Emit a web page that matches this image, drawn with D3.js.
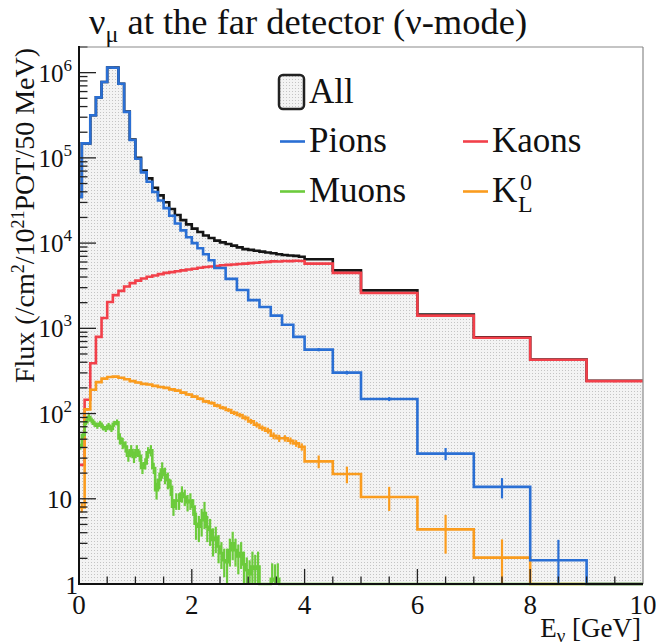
<!DOCTYPE html>
<html>
<head>
<meta charset="utf-8">
<script src="https://cdn.jsdelivr.net/npm/d3@7"></script>
<style>
  html, body { margin: 0; padding: 0; background: #fff; }
  svg { display: block; }
</style>
</head>
<body>
<svg id="chart" width="656" height="643"></svg>
<script>
// ---------------------------------------------------------------
// nu_mu flux at the far detector (neutrino mode), by parent particle.
// Flux in /cm^2/1e21 POT/50 MeV, bins in GeV.
// ---------------------------------------------------------------

// All contributions (total)
const allEdges = [0, 0.05, 0.2, 0.3, 0.4, 0.5, 0.6, 0.7, 0.8, 0.9, 1.0,
  1.1, 1.2, 1.3, 1.4, 1.5, 1.6, 1.7, 1.8, 1.9, 2.0,
  2.1, 2.2, 2.3, 2.4, 2.5, 2.6, 2.7, 2.8, 2.9, 3.0,
  3.1, 3.2, 3.3, 3.4, 3.5, 3.6, 3.7, 3.8, 3.9, 4.0,
  4.5, 5, 6, 7, 8, 9, 10];
const allFlux = [34800, 148000, 316000, 513000, 777000, 1150000, 1150000, 742000, 349000, 164000,
  100000, 70800, 57500, 44700, 36300, 30200, 25100, 21400, 18600, 16600,
  14800, 13500, 12300, 11500, 10700, 10200, 9770, 9330, 8910, 8510,
  8320, 8130, 7940, 7760, 7590, 7410, 7240, 7160, 7080, 6920,
  6460, 4790, 2790, 1450, 785, 431, 243];

// Pions
const pionEdges = [0, 0.05, 0.2, 0.3, 0.4, 0.5, 0.6, 0.7, 0.8, 0.9, 1.0,
  1.1, 1.2, 1.3, 1.4, 1.5, 1.6, 1.7, 1.8, 1.9, 2.0,
  2.1, 2.2, 2.3, 2.4, 2.6, 2.8, 3.0, 3.2, 3.4, 3.6, 3.8, 4.0,
  4.5, 5, 6, 7, 8, 9, 10];
const pionFlux = [34700, 148000, 316000, 513000, 776000, 1150000, 1140000, 741000, 347000, 162000,
  97700, 67600, 52500, 39800, 31600, 25700, 20900, 17000, 14100, 11700,
  10000, 8700, 7400, 6300, 5100, 3800, 2820, 2140, 1780, 1410, 1100, 794,
  562, 302, 148, 33.9, 13.8, 1.9, 0];
const pionErr = [0, 0, 0, 0, 0, 0, 0, 0, 0, 0,
  0, 0, 0, 0, 0, 0, 0, 0, 0, 0,
  0, 0, 0, 0, 0, 0, 0, 0, 0, 0, 0, 0,
  25, 15, 8, 5.5, 3.7, 1.4, 0];

// Kaons
const kaonEdges = [0, 0.1, 0.2, 0.3, 0.4, 0.5, 0.6, 0.7, 0.8, 0.9, 1.0,
  1.1, 1.2, 1.3, 1.4, 1.5, 1.6, 1.7, 1.8, 1.9, 2.0,
  2.1, 2.2, 2.3, 2.4, 2.5, 2.6, 2.7, 2.8, 2.9, 3.0,
  3.1, 3.2, 3.3, 3.4, 3.5, 3.6, 3.7, 3.8, 3.9, 4.0,
  4.5, 5, 6, 7, 8, 9, 10];
const kaonFlux = [25, 145, 389, 794, 1320, 2040, 2450, 2750, 3090, 3390,
  3630, 3850, 4030, 4170, 4320, 4470, 4570, 4680, 4790, 4900,
  5010, 5130, 5250, 5310, 5370, 5500, 5560, 5620, 5690, 5750,
  5820, 5890, 5960, 6030, 6100, 6080, 6170, 6140, 6200, 6170,
  5750, 4470, 2600, 1410, 776, 427, 240];
const kaonErr = [0, 0, 0, 0, 0, 0, 0, 0, 0, 0,
  0, 0, 0, 0, 0, 0, 0, 0, 0, 0,
  0, 0, 0, 0, 0, 0, 0, 0, 0, 0,
  0, 0, 0, 0, 0, 0, 0, 0, 0, 0,
  60, 50, 30, 20, 14, 10, 7];

// Muons (50 MeV bins up to 3.6 GeV, empty above)
const muonEdges = d3.range(0, 73).map(i => +(i * 0.05).toFixed(2)).concat([10]);
const muonFlux = [41, 56, 79, 91, 83, 76, 72, 76, 69, 66, 72, 66, 76, 79,
  51, 45, 41, 32, 37, 31, 37, 32, 23, 26, 35, 37, 23,
  12.6, 16.6, 22, 19, 16.6, 13.8, 8.1, 9.5, 9.5, 11.5, 10.5, 9.1, 9.5, 8.1,
  5.1, 4.7, 5.6, 6.8, 4.7, 4.3, 3.3, 3.5, 2.75, 2.3, 1.9, 1.8, 2.5, 3.0, 2.5, 2.1, 2.3, 1.7, 1.45,
  1.3, 1.6, 1.5, 1.6, 0, 0, 0, 0, 1.15, 1.1, 1.15, 0,
  0];
const muonErr = [3.3, 4.5, 6.3, 7.3, 6.6, 6.1, 5.8, 6.1, 5.5, 5.3, 5.8, 5.3, 6.1, 6.3,
  7.7, 6.8, 6.2, 4.8, 5.6, 4.7, 5.6, 4.8, 3.5, 3.9, 5.3, 5.6, 3.5,
  2.8, 3.7, 4.8, 4.2, 3.7, 3.0, 1.8, 2.1, 2.1, 2.5, 2.3, 2.0, 2.1, 1.8,
  1.8, 1.6, 2.0, 2.4, 1.6, 1.5, 1.2, 1.2, 1.0, 0.8, 0.7, 0.8, 0.9, 1.1, 0.9, 0.8, 0.8, 0.7, 0.6,
  0.6, 0.8, 0.7, 0.8, 0, 0, 0, 0, 0.6, 0.6, 0.6, 0,
  0];

// K0_L
const klongEdges = kaonEdges;
const klongFlux = [7.9, 112, 190, 234, 257, 269, 271, 263, 253, 240,
  231, 223, 219, 211, 205, 200, 192, 186, 176, 167,
  158, 149, 139, 133, 124, 117, 110, 102, 96, 89,
  81, 74, 67.6, 63.1, 55.0, 51.3, 51.3, 47.9, 44.7, 40.7,
  27.5, 19.5, 10.5, 4.37, 2.04, 0, 0];
const klongErr = [1.0, 4, 5, 5, 5, 5, 5, 5, 5, 5,
  5, 5, 5, 5, 5, 6, 6, 6, 6, 6,
  6, 6, 6, 6, 6, 6, 6, 6, 6, 6,
  5.5, 5.5, 5, 5, 5, 5, 4.5, 4.5, 4, 4,
  4.7, 4.3, 3.3, 2.1, 1.3, 0, 0];

// Axis labels
const xTickLabels = ["0", "2", "4", "6", "8", "10"];
const xTickValues = [0, 2, 4, 6, 8, 10];
const yDecades = [1, 10, 100, 1e3, 1e4, 1e5, 1e6];
const yDecadeExponents = ["", "", "2", "3", "4", "5", "6"];

// ---------------------------------------------------------------
const FONT = "'Liberation Serif', Tinos, 'Times New Roman', Times, 'DejaVu Serif', serif";
const svg = d3.select("#chart").attr("font-family", FONT).style("font-family", FONT);
const frame = { left: 79, right: 643, top: 47, bottom: 584 };
const x = d3.scaleLinear().domain([0, 10]).range([frame.left, frame.right]);
const y = d3.scaleLog().domain([1, 2e6]).range([frame.bottom, frame.top]);
const yv = v => (v > 1 ? y(v) : y(1));

const colors = { all: "#151515", pion: "#2a6fd4", kaon: "#f2404a", muon: "#6ccb3c", klong: "#fa9c1e" };

const defs = svg.append("defs");
const pat = defs.append("pattern").attr("id", "dots")
  .attr("width", 3).attr("height", 3).attr("patternUnits", "userSpaceOnUse");
pat.append("rect").attr("width", 3).attr("height", 3).attr("fill", "#f3f3f3");
pat.append("rect").attr("x", 1).attr("y", 1).attr("width", 1).attr("height", 1).attr("fill", "#c4c4c4");

defs.append("clipPath").attr("id", "plotClip")
  .append("rect").attr("x", frame.left).attr("y", frame.top)
  .attr("width", frame.right - frame.left).attr("height", frame.bottom - frame.top + 3);

svg.append("rect").attr("width", 656).attr("height", 643).attr("fill", "#fff");

// histogram outline points
function stepPoints(edges, vals) {
  const pts = [];
  vals.forEach((v, i) => { pts.push([edges[i], v]); pts.push([edges[i + 1], v]); });
  return pts;
}
const stepLine = d3.line().x(d => x(d[0])).y(d => yv(d[1]));
const stepArea = d3.area().x(d => x(d[0])).y0(y(1)).y1(d => yv(d[1]));

const plot = svg.append("g").attr("clip-path", "url(#plotClip)");

// filled total
plot.append("path").datum(stepPoints(allEdges, allFlux))
  .attr("d", stepArea).attr("fill", "url(#dots)");

// axes: ticks and lines
const axes = svg.append("g");
y.ticks().filter(v => v <= 2e6).forEach(v => {
  const major = Math.abs(Math.log10(v) - Math.round(Math.log10(v))) < 1e-9;
  if (v === 1) return;
  axes.append("line").attr("x1", frame.left).attr("x2", frame.left + (major ? 17 : 8.5))
    .attr("y1", y(v)).attr("y2", y(v))
    .attr("stroke", "#222").attr("stroke-width", 1.3);
});
x.ticks(20).forEach(v => {
  if (v === 0 || v === 10) return;
  const major = Math.abs(v / 2 - Math.round(v / 2)) < 1e-9;
  axes.append("line").attr("x1", x(v)).attr("x2", x(v))
    .attr("y1", frame.bottom).attr("y2", frame.bottom - (major ? 15 : 7.5))
    .attr("stroke", "#222").attr("stroke-width", 1.3);
});
// frame
axes.append("line").attr("x1", frame.left).attr("x2", frame.right).attr("y1", frame.top).attr("y2", frame.top)
  .attr("stroke", "#8a8a8a").attr("stroke-width", 1.2);
axes.append("line").attr("x1", frame.right).attr("x2", frame.right).attr("y1", frame.top).attr("y2", frame.bottom)
  .attr("stroke", "#8a8a8a").attr("stroke-width", 1.2);
axes.append("line").attr("x1", frame.left).attr("x2", frame.left).attr("y1", frame.top - 1).attr("y2", frame.bottom + 1)
  .attr("stroke", "#111").attr("stroke-width", 2);
axes.append("line").attr("x1", frame.left - 1).attr("x2", frame.right).attr("y1", frame.bottom).attr("y2", frame.bottom)
  .attr("stroke", "#111").attr("stroke-width", 2);

// histogram lines with error bars
function drawHist(edges, vals, errs, color) {
  plot.append("path").datum(stepPoints(edges, vals))
    .attr("d", stepLine).attr("fill", "none")
    .attr("stroke", color).attr("stroke-width", 2.6).attr("stroke-linejoin", "miter");
  if (!errs) return;
  vals.forEach((v, i) => {
    const e = errs[i];
    if (!e || v <= 0) return;
    const xc = x((edges[i] + edges[i + 1]) / 2);
    plot.append("line").attr("x1", xc).attr("x2", xc)
      .attr("y1", yv(v + e)).attr("y2", v - e > 1 ? y(v - e) : y(1))
      .attr("stroke", color).attr("stroke-width", 2.2);
  });
}
drawHist(allEdges, allFlux, null, colors.all);
drawHist(kaonEdges, kaonFlux, kaonErr, colors.kaon);
drawHist(klongEdges, klongFlux, klongErr, colors.klong);
drawHist(pionEdges, pionFlux, pionErr, colors.pion);
drawHist(muonEdges, muonFlux, muonErr, colors.muon);

// text helper
function addText(parent, size) {
  return parent.append("text").attr("font-family", FONT).attr("font-size", size).attr("fill", "#111");
}

// y tick labels
const labels = svg.append("g");
yDecades.forEach((v, i) => {
  const t = addText(labels, 25);
  if (v === 1) {
    t.attr("x", 78).attr("y", y(v) + 10).attr("text-anchor", "end").text("1");
  } else if (v === 10) {
    t.attr("x", 72).attr("y", y(v) + 9).attr("text-anchor", "end").text("10");
  } else {
    t.attr("x", 72).attr("y", y(v) + 9).attr("text-anchor", "end");
    t.append("tspan").text("10");
    t.append("tspan").attr("font-size", 17).attr("dy", -11).text(yDecadeExponents[i]);
  }
});
// x tick labels
xTickValues.forEach((v, i) => {
  addText(labels, 27).attr("x", x(v)).attr("y", 614).attr("text-anchor", "middle").text(xTickLabels[i]);
});

// axis titles
const xt = addText(labels, 27).attr("x", 641).attr("y", 637).attr("text-anchor", "end");
xt.append("tspan").text("E");
xt.append("tspan").attr("font-size", 19).attr("dy", 5).text("ν");
xt.append("tspan").attr("dy", -5).text(" [GeV]");

const yt = addText(labels, 28).attr("transform", "translate(34,48) rotate(-90)").attr("text-anchor", "end");
yt.append("tspan").text("Flux (/cm");
yt.append("tspan").attr("font-size", 18).attr("dy", -10).text("2");
yt.append("tspan").attr("dy", 10).text("/10");
yt.append("tspan").attr("font-size", 18).attr("dy", -10).text("21");
yt.append("tspan").attr("dy", 10).text("POT/50 MeV)");

// title
const title = addText(labels, 36.5).attr("x", 89).attr("y", 34);
title.append("tspan").text("ν");
title.append("tspan").attr("font-size", 24).attr("dy", 8).text("μ");
title.append("tspan").attr("dy", -8).text(" at the far detector (ν-mode)");

// legend
const legend = svg.append("g");
legend.append("rect").attr("x", 279).attr("y", 75).attr("width", 25).attr("height", 34)
  .attr("rx", 4).attr("fill", "url(#dots)").attr("stroke", "#222").attr("stroke-width", 2.5);
addText(legend, 35).attr("x", 309).attr("y", 103).text("All");

const legendRows = [
  { name: "Pions", color: colors.pion, lx: 280, ly: 141.5 },
  { name: "Kaons", color: colors.kaon, lx: 463, ly: 141.5 },
  { name: "Muons", color: colors.muon, lx: 280, ly: 191.5 },
  { name: "K", color: colors.klong, lx: 463, ly: 191.5 }
];
legendRows.forEach(r => {
  legend.append("line").attr("x1", r.lx).attr("x2", r.lx + 25).attr("y1", r.ly).attr("y2", r.ly)
    .attr("stroke", r.color).attr("stroke-width", 2.6);
  addText(legend, 35).attr("x", r.lx + 29).attr("y", r.ly + 10.5).text(r.name);
});
addText(legend, 24).attr("x", 520).attr("y", 190).text("0");
addText(legend, 24).attr("x", 518).attr("y", 212).text("L");
</script>
</body>
</html>
